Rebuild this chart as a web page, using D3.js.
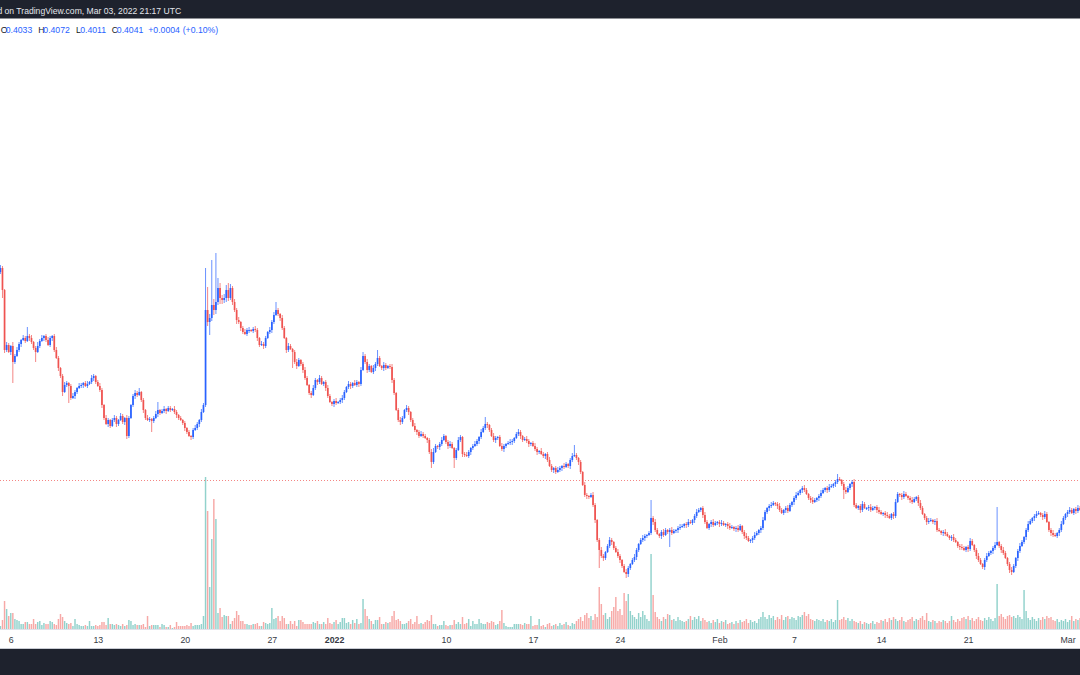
<!DOCTYPE html>
<html><head><meta charset="utf-8">
<script src="https://cdn.jsdelivr.net/npm/d3@7"></script>
<style>html,body{margin:0;padding:0;background:#fff;overflow:hidden}svg{display:block}</style>
</head><body>
<svg id="c" width="1080" height="675"></svg>
<script>
// ---------------- DATA ----------------
const headerText = "d on TradingView.com, Mar 03, 2022 21:17 UTC";
const legendLabels = ["O", "H", "L", "C"];
const legendValues = ["0.4033", "0.4072", "0.4011", "0.4041"];
const legendChange = ["+0.0004", "(+0.10%)"];
const lastPrice = 0.4041;

const startTime = "2021-12-05T04:00:00Z"; // first visible 4h candle
const candleHours = 4;
const firstOpen = 0.612;

const closes = [
0.616,0.594,0.534,0.539,0.532,0.538,0.522,0.528,0.534,
0.540,0.544,0.546,0.543,0.548,0.546,0.542,0.536,0.532,0.538,
0.543,0.546,0.548,0.544,0.539,0.546,0.548,0.534,0.526,0.516,
0.508,0.492,0.499,0.501,0.498,0.486,0.488,0.492,0.496,0.498,
0.499,0.501,0.498,0.500,0.502,0.506,0.508,0.502,0.498,0.494,
0.479,0.466,0.460,0.464,0.458,0.464,0.466,0.460,0.464,0.468,
0.462,0.466,0.448,0.466,0.479,0.488,0.491,0.489,0.492,0.484,
0.474,0.466,0.464,0.465,0.463,0.466,0.470,0.474,0.471,0.473,
0.475,0.473,0.476,0.474,0.475,0.472,0.469,0.466,0.464,0.461,
0.456,0.452,0.448,0.447,0.454,0.456,0.460,0.464,0.472,0.479,
0.574,0.562,0.566,0.579,0.574,0.582,0.596,0.586,0.584,0.586,
0.594,0.586,0.596,0.582,0.574,0.564,0.562,0.556,0.552,0.550,
0.554,0.554,0.553,0.555,0.554,0.546,0.539,0.540,0.538,0.546,
0.552,0.554,0.562,0.569,0.574,0.570,0.566,0.556,0.546,0.534,
0.538,0.535,0.532,0.522,0.518,0.524,0.520,0.514,0.506,0.499,
0.491,0.489,0.496,0.504,0.502,0.506,0.500,0.502,0.496,0.488,
0.482,0.480,0.483,0.481,0.482,0.484,0.486,0.492,0.497,0.500,
0.498,0.501,0.499,0.502,0.500,0.514,0.528,0.522,0.514,0.518,
0.512,0.516,0.520,0.526,0.518,0.516,0.519,0.516,0.518,0.517,
0.504,0.491,0.474,0.464,0.462,0.466,0.474,0.476,0.472,0.464,
0.458,0.454,0.452,0.448,0.450,0.448,0.446,0.444,0.432,0.422,0.432,
0.438,0.437,0.440,0.444,0.448,0.442,0.438,0.440,0.436,0.426,
0.434,0.444,0.447,0.430,0.429,0.428,0.432,0.436,0.438,0.440,
0.443,0.447,0.452,0.456,0.460,0.459,0.454,0.448,0.444,0.446,
0.447,0.438,0.435,0.438,0.440,0.441,0.442,0.443,0.446,0.450,
0.452,0.448,0.444,0.445,0.443,0.440,0.441,0.438,0.435,0.432,
0.433,0.430,0.428,0.430,0.424,0.418,0.414,0.416,0.412,0.414,
0.416,0.418,0.417,0.420,0.418,0.424,0.428,0.429,0.426,0.422,
0.412,0.399,0.389,0.388,0.387,0.389,0.379,0.364,0.344,0.334,
0.328,0.326,0.332,0.338,0.344,0.342,0.336,0.332,0.328,0.324,
0.318,0.312,0.310,0.316,0.320,0.324,0.327,0.334,0.340,0.344,
0.346,0.348,0.349,0.351,0.366,0.362,0.354,0.350,0.348,0.352,
0.349,0.354,0.352,0.354,0.351,0.353,0.354,0.356,0.357,0.358,
0.360,0.359,0.362,0.361,0.364,0.368,0.372,0.374,0.376,0.369,
0.362,0.356,0.360,0.362,0.359,0.361,0.362,0.360,0.361,0.359,
0.360,0.358,0.356,0.357,0.355,0.356,0.354,0.358,0.352,0.348,
0.346,0.343,0.344,0.346,0.349,0.351,0.354,0.356,0.364,0.372,
0.376,0.378,0.379,0.381,0.380,0.378,0.374,0.371,0.374,0.376,
0.373,0.379,0.382,0.386,0.389,0.391,0.394,0.396,0.394,0.390,
0.386,0.384,0.382,0.384,0.386,0.388,0.391,0.394,0.396,0.394,
0.397,0.398,0.400,0.402,0.405,0.404,0.400,0.394,0.392,0.396,
0.400,0.402,0.379,0.376,0.378,0.374,0.380,0.376,0.376,0.377,
0.374,0.376,0.377,0.374,0.372,0.370,0.371,0.369,0.368,0.366,
0.370,0.368,0.382,0.390,0.389,0.387,0.390,0.388,0.386,0.384,
0.382,0.385,0.387,0.381,0.376,0.370,0.366,0.362,0.363,0.364,
0.362,0.363,0.354,0.353,0.351,0.352,0.350,0.348,0.346,0.347,
0.344,0.342,0.338,0.337,0.336,0.334,0.337,0.335,0.343,0.339,
0.334,0.328,0.324,0.320,0.317,0.324,0.328,0.331,0.333,0.336,
0.339,0.342,0.338,0.334,0.331,0.326,0.320,0.314,0.312,0.318,
0.326,0.333,0.338,0.342,0.347,0.354,0.360,0.363,0.366,0.368,
0.370,0.371,0.369,0.367,0.370,0.362,0.354,0.351,0.349,0.348,
0.351,0.354,0.360,0.366,0.370,0.372,0.374,0.371,0.375,0.373,
0.376,0.374
];

// wick lengths beyond the body, in units of 0.001
const wickUp = [
3,2,1,3,2,1,4,2,3,
2,1,3,2,9,2,3,1,2,4,
2,3,1,2,3,2,1,2,3,2,
1,2,3,2,1,2,3,2,1,3,
2,1,2,3,1,3,2,1,2,3,
2,1,3,2,1,2,3,2,1,3,
2,1,3,2,1,2,3,2,4,1,
2,1,3,2,1,2,3,8,1,2,
3,1,2,2,1,3,2,1,2,1,
2,1,2,1,2,3,2,1,3,2,
42,23,4,45,6,49,10,5,3,4,
5,7,4,2,3,2,3,1,2,3,
2,3,1,2,3,2,1,3,2,2,
1,3,2,3,8,2,1,3,2,1,
3,2,1,2,3,2,1,2,3,2,
1,2,3,2,1,3,2,1,2,3,
2,1,2,3,1,2,3,2,1,3,
2,1,3,2,1,3,4,2,3,2,
1,3,2,8,2,1,3,2,1,2,
3,2,1,2,3,2,1,3,2,1,
2,3,1,2,3,2,2,1,2,3,4,
2,1,2,3,2,1,2,3,2,1,
2,3,2,1,2,3,2,1,2,3,
2,1,3,2,7,2,1,2,3,2,
1,2,3,2,1,2,3,2,1,2,
3,2,1,2,3,2,1,2,3,2,
1,3,2,1,2,3,2,1,2,3,
2,1,3,2,1,2,3,10,2,1,
2,1,3,2,1,2,3,2,1,2,
3,2,1,2,3,2,1,2,3,2,
1,2,3,2,1,2,3,2,1,2,
3,2,1,2,18,2,3,2,1,2,
3,2,1,2,3,2,1,2,3,2,
1,2,3,2,1,2,3,2,1,2,
3,2,1,2,3,2,1,2,3,2,
1,2,3,2,1,2,3,2,1,2,
3,2,1,2,3,2,1,2,3,2,
1,2,3,2,1,2,3,2,1,2,
3,2,1,2,3,2,1,2,3,2,
1,2,3,2,1,2,3,2,1,2,
3,2,1,2,5,2,1,2,3,2,
1,2,3,2,1,2,3,2,1,2,
3,2,1,2,3,2,1,2,3,2,
1,2,3,2,1,2,3,2,1,2,
3,2,1,2,3,2,1,2,3,2,
1,2,3,2,1,2,3,2,1,2,
3,2,1,2,3,2,1,2,3,2,
1,2,3,2,1,2,3,2,1,2,
3,35,1,2,3,2,1,2,3,2,
1,2,3,2,1,2,3,2,1,2,
3,2,1,2,3,2,1,2,3,2,
1,2,3,2,1,2,3,2,1,2,
3,2
];
const wickDown = [
2,8,3,2,1,3,21,2,1,
2,3,1,2,1,3,2,2,10,1,
2,1,3,2,1,2,3,2,1,3,
2,4,1,2,17,2,1,3,2,1,
2,3,1,2,1,2,3,2,1,2,
3,2,1,3,2,1,2,3,2,1,
2,3,3,2,1,2,3,2,1,2,
3,2,1,2,11,2,1,3,2,1,
2,3,1,2,1,2,3,2,1,2,
3,2,1,3,2,1,2,3,2,1,
2,4,13,3,5,4,3,6,4,3,
4,3,2,3,2,4,2,3,2,1,
2,3,1,2,2,3,2,1,3,2,
1,2,3,2,1,2,3,2,1,3,
2,1,16,2,3,1,2,3,2,1,
2,3,1,2,3,2,1,2,3,2,
1,2,3,2,1,2,3,2,1,2,
3,2,1,2,3,2,1,2,3,2,
1,2,3,2,1,2,3,2,1,2,
3,2,1,2,3,2,1,2,3,2,
1,2,3,2,1,2,1,3,2,6,2,
1,2,3,2,1,2,3,2,1,10,
2,1,2,3,2,1,2,3,2,1,
2,3,2,1,2,3,2,1,2,3,
2,1,2,3,2,1,2,3,2,1,
2,3,2,1,2,3,2,1,2,3,
2,1,2,3,2,1,2,3,2,1,
2,3,2,1,2,3,2,1,2,3,
2,1,2,3,2,1,2,3,2,18,
2,3,2,1,2,3,2,1,2,3,
2,1,4,3,2,1,2,3,2,1,
2,3,2,1,2,3,2,1,2,3,
2,1,2,15,2,1,2,3,2,1,
2,3,2,1,2,3,2,1,2,3,
2,1,2,3,2,1,2,3,2,1,
2,3,2,1,2,3,2,1,2,3,
2,1,2,3,2,1,2,3,2,1,
2,3,2,1,2,3,2,1,2,3,
2,1,2,3,2,1,2,3,2,1,
2,3,2,1,2,3,2,1,2,3,
2,1,2,3,2,1,2,9,2,1,
2,3,2,1,2,3,2,1,2,3,
2,1,2,3,2,1,2,3,2,1,
2,3,2,1,2,3,2,1,2,3,
2,1,2,3,2,1,2,3,2,1,
2,3,2,1,2,3,2,1,2,3,
2,1,2,3,2,1,2,3,2,1,
2,3,2,1,2,3,2,1,2,3,
2,1,2,3,2,1,2,3,3,1,
2,3,2,1,2,3,2,1,2,3,
2,1,2,3,2,1,2,3,2,1,
2,3,2,1,2,3,2,1,2,3,
2,1
];
// volume per candle, in units of 100k
const volumes = [
3,9,28,20,13,16,16,10,9,
8,5,5,7,7,5,5,10,5,7,
8,4,6,5,5,8,7,5,4,10,
15,12,8,6,5,6,3,10,5,4,
3,3,4,3,8,3,3,4,3,4,
7,7,4,11,5,5,4,5,4,3,
5,3,4,9,8,4,5,4,4,4,
5,2,13,3,4,4,4,4,2,5,
4,2,2,4,1,2,7,3,3,3,
3,4,3,6,3,4,4,4,5,13,
152,118,42,90,130,110,16,21,12,14,
13,13,5,8,11,18,14,8,8,5,
5,4,4,5,5,6,3,3,7,6,
5,6,21,10,11,13,8,13,11,5,
5,8,5,8,3,9,9,7,5,5,
5,5,7,6,8,5,5,7,5,11,
6,5,7,9,5,7,11,11,6,7,
5,9,6,10,5,6,30,20,13,10,
8,5,9,9,12,5,5,7,6,7,
13,18,9,10,8,5,5,6,8,10,
5,7,13,5,6,5,7,9,8,14,5,
5,3,4,4,8,4,3,4,4,9,
5,7,5,12,5,6,10,3,8,5,
5,10,6,5,5,7,6,8,7,4,
5,8,19,6,3,2,2,2,5,5,
5,5,4,6,5,5,13,3,4,4,
10,3,4,2,5,6,3,4,5,3,
6,4,5,7,4,3,6,5,8,10,
12,8,14,16,11,13,9,15,12,42,
25,14,16,10,12,18,22,32,18,20,
14,36,28,35,18,14,12,10,16,12,
18,14,10,8,75,34,17,12,10,8,
12,10,15,14,9,10,8,12,9,8,
7,8,10,13,9,12,10,13,8,11,
9,7,8,6,9,7,10,6,8,7,
9,5,6,7,5,8,6,9,7,8,
10,6,9,7,8,6,10,12,17,12,
10,14,11,13,9,12,10,14,9,12,
13,10,12,11,9,13,12,14,17,13,
15,10,9,8,10,9,8,10,7,9,
8,10,7,9,29,9,10,12,9,11,
8,10,8,7,6,8,5,7,6,5,
6,8,5,7,6,9,8,10,7,11,
9,12,10,8,9,12,8,7,9,10,
12,8,10,9,11,13,9,16,8,7,
9,8,6,8,7,9,8,6,8,13,
9,7,10,8,11,12,10,13,9,11,
8,10,12,9,8,11,9,12,10,8,
11,45,13,15,12,10,13,14,12,13,
11,14,12,10,39,18,11,9,12,10,
8,11,9,12,10,13,11,12,9,8,
10,7,9,8,10,7,9,13,8,10,
9,11
];

const tickDates = ["2021-12-06","2021-12-13","2021-12-20","2021-12-27","2022-01-01","2022-01-10","2022-01-17","2022-01-24","2022-02-01","2022-02-07","2022-02-14","2022-02-21","2022-03-01"];
const tickLabels = ["6","13","20","27","2022","10","17","24","Feb","7","14","21","Mar"];
const boldTicks = ["2022"];

// ---------------- CHART ----------------
const W = 1080, H = 675;
const plotBottom = 629;
const UP = "#2962ff", DOWN = "#ef5350";
const VOL_UP = "rgba(38,166,154,0.5)", VOL_DOWN = "rgba(239,83,80,0.5)";
const FONT = "'Liberation Sans', Arial, sans-serif";

const svg = d3.select("#c");
svg.append("rect").attr("width", W).attr("height", H).attr("fill", "#ffffff");

const x = d3.scaleUtc()
  .domain([new Date("2021-12-05T03:13:00Z"), new Date("2022-03-02T00:00:00Z")])
  .range([0, W]);
const y = d3.scaleLinear().domain([0.255, 0.884]).range([plotBottom, 0]);
const yv = d3.scaleLinear().domain([0, 160]).range([plotBottom, plotBottom - 160]);

const t0 = Date.parse(startTime);
const data = closes.map((c, i) => {
  const o = i === 0 ? firstOpen : closes[i - 1];
  return {
    t: new Date(t0 + i * candleHours * 3600e3),
    o, c,
    h: Math.max(o, c) + wickUp[i] / 1000,
    l: Math.min(o, c) - wickDown[i] / 1000,
    v: volumes[i],
    up: c >= o
  };
});

const step = x(new Date(t0 + candleHours * 3600e3)) - x(new Date(t0));
const bw = step * 0.82;
const vw = step * 0.7;

// volume
svg.append("g").selectAll("rect").data(data).join("rect")
  .attr("x", d => x(d.t) - vw / 2)
  .attr("width", vw)
  .attr("y", d => yv(d.v))
  .attr("height", d => plotBottom - yv(d.v))
  .attr("fill", d => d.up ? VOL_UP : VOL_DOWN);

// last price dotted line
svg.append("line")
  .attr("x1", 0).attr("x2", W)
  .attr("y1", Math.round(y(lastPrice)) + 0.5).attr("y2", Math.round(y(lastPrice)) + 0.5)
  .attr("stroke", DOWN).attr("stroke-opacity", 0.7)
  .attr("stroke-width", 1).attr("stroke-dasharray", "1,2");

// candles
const cg = svg.append("g");
cg.selectAll("line").data(data).join("line")
  .attr("x1", d => x(d.t)).attr("x2", d => x(d.t))
  .attr("y1", d => y(d.h)).attr("y2", d => y(d.l))
  .attr("stroke", d => d.up ? UP : DOWN)
  .attr("stroke-opacity", 0.7)
  .attr("stroke-width", 1);
cg.selectAll("rect").data(data).join("rect")
  .attr("x", d => x(d.t) - bw / 2)
  .attr("width", bw)
  .attr("y", d => y(Math.max(d.o, d.c)))
  .attr("height", d => Math.max(1, Math.abs(y(d.o) - y(d.c))))
  .attr("fill", d => d.up ? UP : DOWN);

// time axis area
svg.append("rect").attr("x", 0).attr("y", plotBottom).attr("width", W).attr("height", 20).attr("fill", "#ffffff");
svg.append("line").attr("x1", 0).attr("x2", W).attr("y1", plotBottom + 0.5).attr("y2", plotBottom + 0.5)
  .attr("stroke", "#e0e3eb").attr("stroke-width", 1);

const axis = d3.axisBottom(x)
  .tickValues(tickDates.map(s => new Date(s + "T00:00:00Z")))
  .tickFormat((d, i) => tickLabels[i])
  .tickSize(0).tickPadding(7.5);
const ag = svg.append("g").attr("transform", `translate(0,${plotBottom})`).call(axis);
ag.select(".domain").remove();
ag.selectAll("text")
  .attr("font-family", FONT).attr("font-size", "8.8px")
  .attr("fill", "#363a45")
  .attr("font-weight", (d, i) => boldTicks.includes(tickLabels[i]) ? "bold" : "normal");

svg.append("line").attr("x1", 0).attr("x2", W).attr("y1", 648.5).attr("y2", 648.5)
  .attr("stroke", "#c9ccd4").attr("stroke-width", 1);
svg.append("rect").attr("x", 0).attr("y", 649).attr("width", W).attr("height", H - 649).attr("fill", "#1e222d");

// header bar
svg.append("rect").attr("x", 0).attr("y", 0).attr("width", W).attr("height", 18.5).attr("fill", "#1e222d");
svg.append("text").attr("x", -2.6).attr("y", 13.6)
  .attr("font-family", FONT).attr("font-size", "8.6px").attr("fill", "#e3e5ea")
  .text(headerText);

// legend
const lg = svg.append("text").attr("x", 0.7).attr("y", 33.2)
  .attr("font-family", FONT).attr("font-size", "8.7px");
const legendX = [[0.7, 5.7], [38.3, 43.3], [76, 80.2], [111.7, 116.8]];
legendLabels.forEach((lab, i) => {
  lg.append("tspan").attr("x", legendX[i][0]).attr("fill", "#131722").text(lab);
  lg.append("tspan").attr("x", legendX[i][1]).attr("fill", UP).text(legendValues[i]);
});
lg.append("tspan").attr("x", 148.3).attr("fill", UP).text(legendChange[0]);
lg.append("tspan").attr("x", 182.7).attr("fill", UP).text(legendChange[1]);
</script>
</body></html>
